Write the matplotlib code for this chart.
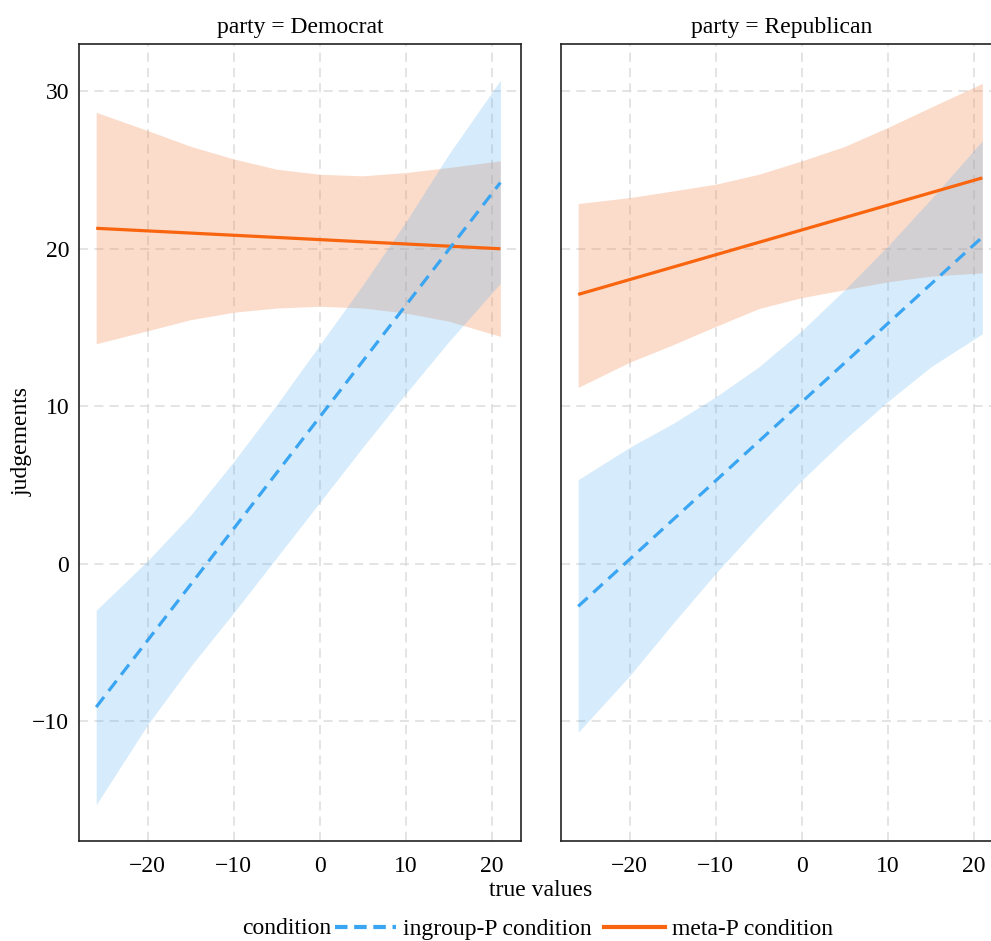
import numpy as np
import matplotlib.pyplot as plt

plt.rcParams['font.family'] = ['Liberation Serif', 'DejaVu Serif']
plt.rcParams['font.size'] = 17

# fitted lines (end points) and confidence bands
x_line = [-26, 21]
band_x = [-26, -20, -15, -10, -5, 0, 5, 10, 15, 21]

# party = Democrat
dem_in_line = [-9.1, 24.2]
dem_in_lo = [-15.3, -10.2, -6.5, -3.1, 0.4, 3.9, 7.4, 10.8, 14.1, 17.8]
dem_in_hi = [-2.95, 0.2, 3.1, 6.5, 10.1, 13.9, 17.7, 21.7, 26.0, 30.7]
dem_meta_line = [21.3, 20.0]
dem_meta_lo = [13.97, 14.8, 15.5, 15.97, 16.24, 16.35, 16.24, 15.92, 15.4, 14.44]
dem_meta_hi = [28.66, 27.5, 26.5, 25.7, 25.05, 24.73, 24.63, 24.84, 25.16, 25.58]

# party = Republican
rep_in_line = [-2.7, 20.74]
rep_in_lo = [-10.7, -7.1, -3.8, -0.6, 2.4, 5.3, 7.9, 10.3, 12.5, 14.6]
rep_in_hi = [5.34, 7.4, 8.9, 10.6, 12.5, 14.8, 17.4, 20.17, 23.14, 26.86]
rep_meta_line = [17.1, 24.5]
rep_meta_lo = [11.2, 12.8, 13.9, 15.07, 16.2, 16.9, 17.4, 17.9, 18.26, 18.47]
rep_meta_hi = [22.87, 23.25, 23.67, 24.1, 24.73, 25.58, 26.5, 27.7, 28.98, 30.5]

panels = [
    ('Democrat', dem_in_line, dem_in_lo, dem_in_hi, dem_meta_line, dem_meta_lo, dem_meta_hi),
    ('Republican', rep_in_line, rep_in_lo, rep_in_hi, rep_meta_line, rep_meta_lo, rep_meta_hi),
]

blue = '#3aa5f2'
orange = '#f9650f'

W, H = 991, 941
fig = plt.figure(figsize=(W / 100, H / 100), dpi=100)
lefts = [79, 561]

for i, (party, in_line, in_lo, in_hi, m_line, m_lo, m_hi) in enumerate(panels):
    ax = fig.add_axes([lefts[i] / W, 100 / H, 442 / W, 797 / H])
    ax.fill_between(band_x, m_lo, m_hi, color='#f48a50', alpha=0.3, lw=0)
    ax.fill_between(band_x, in_lo, in_hi, color='#5cb3f0', alpha=0.25, lw=0)
    ax.plot(x_line, m_line, color=orange, lw=2.3, solid_capstyle='butt')
    ax.plot(x_line, in_line, color=blue, lw=2.3, ls=(0, (4, 2.4)))
    ax.set_xlim(-28, 23.4)
    ax.set_ylim(-17.6, 33)
    ax.set_xticks([-20, -10, 0, 10, 20])
    ax.set_yticks([-10, 0, 10, 20, 30])
    ax.grid(True, color='#dddddd', ls=(0, (6, 4)), lw=1.1)
    ax.set_axisbelow(True)
    ax.tick_params(length=0, pad=7, labelsize=17)
    ax.tick_params(axis='x', pad=11)
    for s in ax.spines.values():
        s.set_color('#222222')
        s.set_linewidth(1.2)
    if i > 0:
        ax.tick_params(labelleft=False)
    ax.set_title(f'party = {party}', fontsize=17, pad=8)

fig.text(22 / W, 1 - 442 / H, 'judgements', rotation=90, ha='center', va='center', fontsize=17)
fig.text(541 / W, 1 - 890 / H, 'true values', ha='center', va='center', fontsize=17)

# legend
fig.text(331 / W, 1 - 929 / H, 'condition', ha='right', va='center', fontsize=17)
h1, = plt.plot([], [], color=blue, lw=3, ls=(0, (3, 1.6)))
h2, = plt.plot([], [], color=orange, lw=3)
fig.legend([h1, h2], ['ingroup-P condition', 'meta-P condition'],
           loc='center left', bbox_to_anchor=(335 / W, 1 - 929 / H), ncol=2,
           frameon=False, fontsize=17, handlelength=2.6, handletextpad=0.3,
           columnspacing=0.5, borderpad=0, borderaxespad=0)

fig.savefig('out.png', dpi=100)
